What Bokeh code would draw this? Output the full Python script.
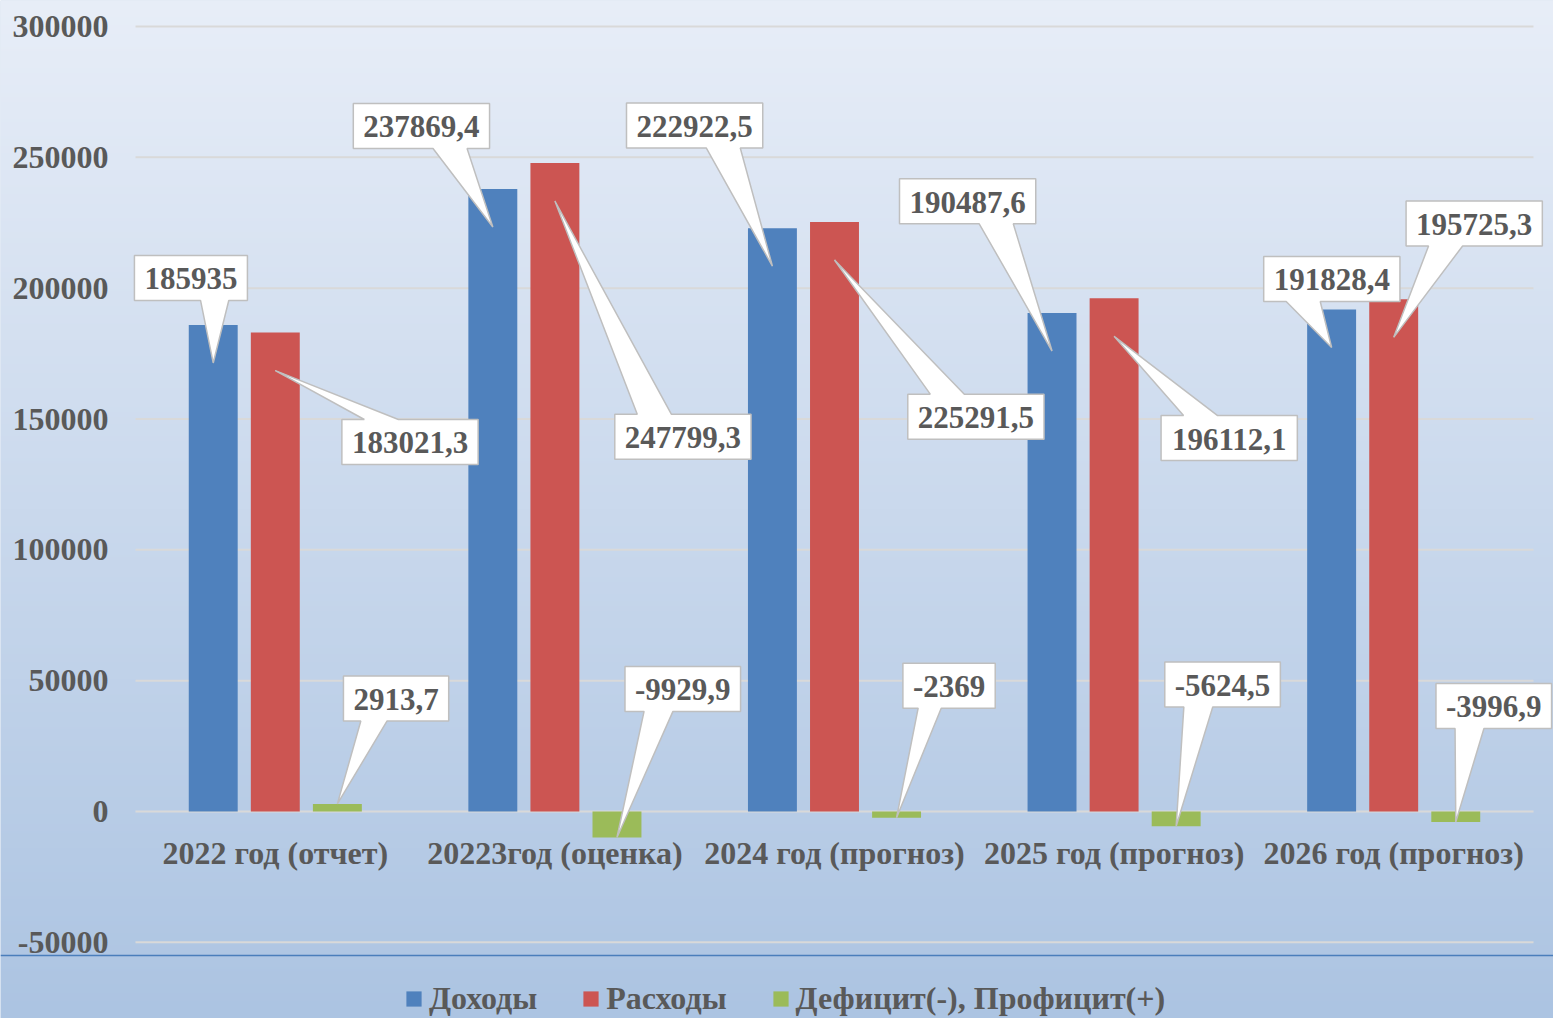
import numpy as np
from bokeh.plotting import figure
from bokeh.models import Range1d, Legend, LegendItem, Span
from bokeh.core.properties import value
from bokeh.embed import file_html
from bokeh.resources import INLINE

# ---------------- data ----------------
categories = ["2022 год (отчет)", "20223год (оценка)", "2024 год (прогноз)",
              "2025 год (прогноз)", "2026 год (прогноз)"]
income = [185935, 237869.4, 222922.5, 190487.6, 191828.4]
expenses = [183021.3, 247799.3, 225291.5, 196112.1, 195725.3]
balance = [2913.7, -9929.9, -2369, -5624.5, -3996.9]
series_names = ["Доходы", "Расходы", "Дефицит(-), Профицит(+)"]
y_ticks = [-50000, 0, 50000, 100000, 150000, 200000, 250000, 300000]

# ---------------- layout / style ----------------
W, H = 1553, 1018
PX_PER_CAT = 279.6
UNITS_PER_PX = 300000 / 785.0
LEFT_PX = 135      # figure px from left edge to start of first category
ZERO_PX = 811      # figure px from top edge to zero line
x_start = -LEFT_PX / PX_PER_CAT
x_end = (W - LEFT_PX) / PX_PER_CAT
y_end = ZERO_PX * UNITS_PER_PX
y_start = -(H - ZERO_PX) * UNITS_PER_PX

colors = ["#4f81bd", "#cc5552", "#9bbb59"]
offsets = [-0.222, 0.0, 0.222]
bar_width = 0.175
FONT = "Liberation Serif"
TXT = "#595959"

# callout boxes: box-centre offsets (px) from the pointer tip
callout_offsets = [
    [(-22.3, -85), (-71.4, -101.1), (-77.8, -140.7), (-84.4, -149.8), (0.2, -68.6)],
    [(134.7, 71.4), (128, 235.6), (141.4, 156.7), (115.1, 101.7), (80.5, -113.9)],
    [(58.7, -105.4), (65.8, -148.6), (52.5, -132), (46.4, -141.8), (38, -116)],
]
tip_inset = [38, 38, 0]

p = figure(width=W, height=H, output_backend="svg", toolbar_location=None,
           x_axis_type=None, y_axis_type=None, min_border=0,
           x_range=Range1d(x_start, x_end), y_range=Range1d(y_start, y_end))
p.outline_line_color = None
p.background_fill_color = "#c8d7eb"
p.border_fill_color = "#c8d7eb"

# background gradient
top_c = np.array([232, 238, 248])
bot_c = np.array([172, 196, 226])
t = np.linspace(0, 1, H)[:, None]
rgb = bot_c[None, :] * (1 - t) + top_c[None, :] * t
img = np.empty((H, 1), dtype=np.uint32)
view = img.view(dtype=np.uint8).reshape((H, 1, 4))
view[:, 0, 0:3] = rgb.astype(np.uint8)
view[:, 0, 3] = 255
p.image_rgba(image=[img], x=x_start, y=y_start, dw=x_end - x_start, dh=y_end - y_start)

# gridlines
p.segment(x0=[0] * len(y_ticks), x1=[len(categories)] * len(y_ticks), y0=y_ticks, y1=y_ticks,
          line_color="#d9d9d9", line_width=2)

# blue rule under the plot
p.add_layout(Span(location=-144 * UNITS_PER_PX, dimension="width",
                  line_color="#4a7ebb", line_width=1.5))

# y tick labels
p.text(x=[-27 / PX_PER_CAT] * len(y_ticks), y=y_ticks, text=[str(v) for v in y_ticks],
       text_align="right", text_baseline="middle", text_font=value(FONT),
       text_font_style="bold", text_font_size="32px", text_color=TXT)

# bars
series = [income, expenses, balance]
renderers = []
xs_base = np.arange(len(categories)) + 0.5
for k, vals in enumerate(series):
    r = p.vbar(x=xs_base + offsets[k], top=vals, bottom=0, width=bar_width,
               fill_color=colors[k], line_color=None)
    renderers.append(r)

# category labels
p.text(x=list(xs_base), y=[-41 * UNITS_PER_PX] * len(categories), text=categories,
       text_align="center", text_baseline="middle", text_font=value(FONT),
       text_font_style="bold", text_font_size="32px", text_color=TXT)


def fmt(v):
    if float(v).is_integer():
        return str(int(v))
    return ("%.1f" % v).replace(".", ",")


def text_w(s):
    w = 0
    for ch in s:
        if ch.isdigit():
            w += 0.5
        elif ch == ",":
            w += 0.25
        elif ch == "-":
            w += 0.333
        else:
            w += 0.5
    return w * 31 + 20


poly_xs, poly_ys, lx, ly, lt = [], [], [], [], []
for k, vals in enumerate(series):
    for i, v in enumerate(vals):
        tx = xs_base[i] + offsets[k]
        ty = v - np.sign(v) * tip_inset[k] * UNITS_PER_PX
        dx, dy = callout_offsets[k][i]
        s = fmt(v)
        w = text_w(s)
        h = 45
        left, right = dx - w / 2, dx + w / 2
        top, bottom = dy - h / 2, dy + h / 2
        sgn = 1 if dx < 0 else -1
        bx = dx + sgn * 0.21 * w
        b0, b1 = bx - 0.125 * w, bx + 0.125 * w
        if dy < 0:
            pts = [(left, top), (right, top), (right, bottom), (b1, bottom), (0, 0),
                   (b0, bottom), (left, bottom)]
        else:
            pts = [(left, top), (b0, top), (0, 0), (b1, top), (right, top),
                   (right, bottom), (left, bottom)]
        poly_xs.append([tx + px / PX_PER_CAT for px, py in pts])
        poly_ys.append([ty - py * UNITS_PER_PX for px, py in pts])
        lx.append(tx + dx / PX_PER_CAT)
        ly.append(ty - (dy + 1) * UNITS_PER_PX)
        lt.append(s)

p.patches(xs=poly_xs, ys=poly_ys, fill_color="white", line_color="#bfbfbf", line_width=1.5)
p.text(x=lx, y=ly, text=lt, text_align="center", text_baseline="middle",
       text_font=value(FONT), text_font_style="bold", text_font_size="31px", text_color=TXT)

legend = Legend(items=[LegendItem(label=series_names[k], renderers=[renderers[k]]) for k in range(3)],
                orientation="horizontal", location=(404, 1),
                label_text_font=FONT, label_text_font_style="bold",
                label_text_font_size="32px", label_text_color=TXT,
                glyph_width=19, glyph_height=19, label_standoff=6, spacing=44,
                padding=0, margin=0, border_line_color=None, background_fill_alpha=0)
p.add_layout(legend)

open("out.html", "w").write(file_html(p, INLINE))
